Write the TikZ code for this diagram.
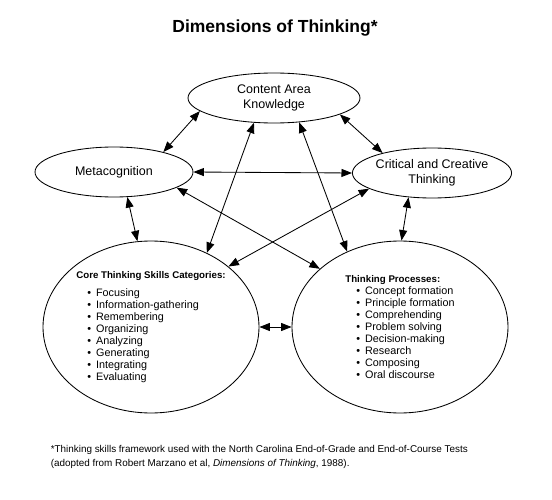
\documentclass[tikz,border=0pt]{standalone}
\usepackage{fontspec}
\setmainfont{Liberation Sans}
\usetikzlibrary{arrows.meta,shapes.geometric}
\newcommand{\itm}[1]{\hspace*{11pt}\textbullet\hspace{5pt}#1}
\newcommand{\hdr}[1]{{\bfseries\fontsize{9.7}{12}\selectfont #1}}

\begin{document}
\begin{tikzpicture}[x=1pt,y=-1pt,<->,>={Triangle[length=10.5pt,width=8pt]},line width=0.85pt,
	dim node/.style={ellipse,draw,inner sep=0pt,align=center,minimum width=158pt,minimum height=50pt,
		font=\fontsize{12.5}{14.5}\selectfont},
	list node/.style={ellipse,draw,inner sep=0pt,align=left,minimum width=216pt,minimum height=172pt,
		font=\fontsize{10.8}{12}\selectfont}]

	\useasboundingbox (0,0) rectangle (552,500);
	\node[font=\bfseries\fontsize{17.5}{20}\selectfont] (title) at (275,28) {Dimensions of Thinking*};

	\node[dim node,minimum width=172pt] (cak) at (274,98) {Content Area\\Knowledge};
	\node[dim node] (meta) at (114,172) {Metacognition};
	\node[dim node] (crit) at (432,173) {Critical and Creative\\Thinking};

	\node[list node] (core) at (151,327) {\hdr{Core Thinking Skills Categories:}\\[6pt]
		\itm{Focusing}\\ \itm{Information-gathering}\\ \itm{Remembering}\\ \itm{Organizing}\\
		\itm{Analyzing}\\ \itm{Generating}\\ \itm{Integrating}\\ \itm{Evaluating}};
	\node[list node] (proc) at (400,327) {\hdr{Thinking Processes:}\\
		\itm{Concept formation}\\ \itm{Principle formation}\\ \itm{Comprehending}\\ \itm{Problem solving}\\
		\itm{Decision-making}\\ \itm{Research}\\ \itm{Composing}\\ \itm{Oral discourse}};

	\node[anchor=west,align=left,font=\fontsize{9.9}{13.5}\selectfont] (note) at (47,457)
		{*Thinking skills framework used with the North Carolina End-of-Grade and End-of-Course Tests\\
		(adopted from Robert Marzano et al, \emph{Dimensions of Thinking}, 1988).};

	\path
	(cak.190) edge (meta.22)
	(cak.346) edge (crit.158)
	(cak.231) edge (core.53)
	(cak.316) edge (proc.125)
	(meta.0) edge (crit.180)
	(meta.298) edge (core.99)
	(meta.346) edge (proc.144)
	(crit.194) edge (core.38)
	(crit.226) edge (proc.89)
	(core.0) edge (proc.180);
\end{tikzpicture}
\end{document}
